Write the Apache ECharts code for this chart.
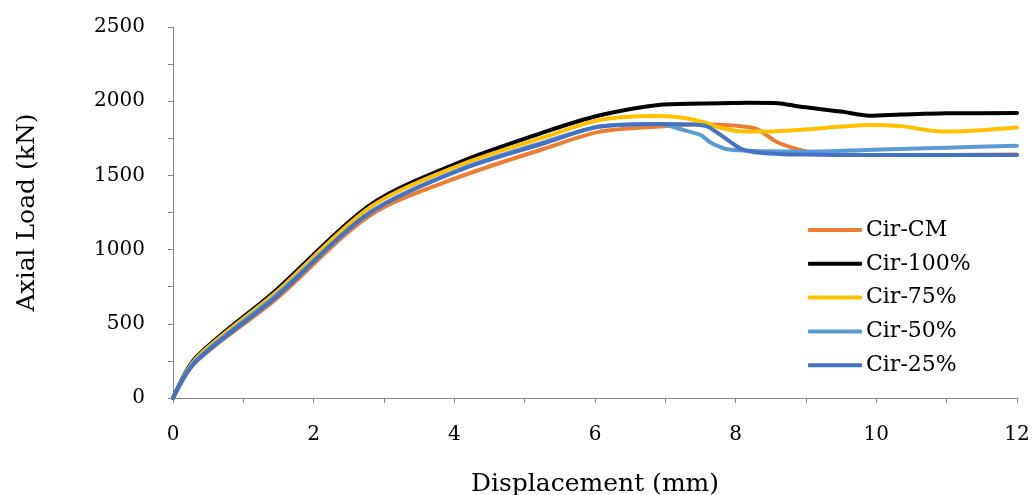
<!DOCTYPE html>
<html>
<head>
<meta charset="utf-8">
<script src="https://cdn.jsdelivr.net/npm/echarts@6/dist/echarts.min.js"></script>
<style>
html,body{margin:0;padding:0;background:#fff;}
#chart{width:1032px;height:495px;}
</style>
</head>
<body>
<div id="chart"></div>
<script>
// Series names
const seriesNames = ['Cir-CM', 'Cir-100%', 'Cir-75%', 'Cir-50%', 'Cir-25%'];
const seriesColors = ['#ED7D31', '#000000', '#FFC000', '#5B9BD5', '#4472C4'];

// [displacement (mm), axial load (kN)]
const cirCM = [[0,0],[0.32,240],[1.45,660],[2.8,1230],[4.08,1491],[5.3,1683],[6.07,1795],[6.9,1829],[7.5,1845],[8.06,1832],[8.3,1812],[8.58,1727],[8.91,1671],[9.1,1652],[9.86,1637],[11,1638],[12,1640]];
const cir100 = [[0,0],[0.32,270],[1.45,720],[2.8,1300],[4.08,1590],[5.3,1795],[6.07,1905],[6.9,1975],[7.5,1984],[8.2,1990],[8.6,1987],[8.9,1964],[9.5,1930],[9.9,1902],[10.35,1910],[11,1918],[12,1920]];
const cir75 = [[0,0],[0.32,262],[1.45,705],[2.8,1285],[4.08,1570],[5.3,1761],[6.07,1873],[6.9,1900],[7.3,1885],[7.6,1851],[7.8,1819],[8.06,1797],[8.4,1795],[9.0,1810],[9.5,1829],[9.9,1840],[10.34,1832],[10.95,1795],[11.5,1805],[12,1822]];
const cir50 = [[0,0],[0.32,250],[1.45,685],[2.8,1250],[4.08,1540],[5.3,1727],[6.07,1829],[6.9,1846],[7.3,1800],[7.5,1772],[7.65,1720],[7.85,1680],[8.1,1668],[8.5,1662],[9.0,1660],[9.86,1671],[11,1687],[12,1700]];
const cir25 = [[0,0],[0.32,244],[1.45,674],[2.75,1233],[4.08,1536],[5.3,1720],[6.07,1829],[6.9,1846],[7.5,1840],[7.62,1825],[7.8,1768],[8.06,1683],[8.25,1658],[8.6,1645],[9.0,1640],[9.86,1637],[12,1637]];
const seriesData = [cirCM, cir100, cir75, cir50, cir25];

// Axis settings
const xMin = 0, xMax = 12, xStep = 1;
const yMin = 0, yMax = 2500, yStep = 250;

const font = '"DejaVu Serif", serif';
const axisGrey = '#868686';

const chart = echarts.init(document.getElementById('chart'), null, {renderer: 'canvas'});
chart.setOption({
  animation: false,
  backgroundColor: '#ffffff',
  grid: {left: 173, right: 15, top: 27, bottom: 97, containLabel: false, outerBoundsMode: 'none'},
  xAxis: {
    type: 'value', min: xMin, max: xMax, interval: xStep,
    name: 'Displacement (mm)', nameLocation: 'middle', nameGap: 74,
    nameTextStyle: {fontFamily: font, fontSize: 25, color: '#000'},
    axisLine: {show: true, onZero: false, lineStyle: {color: axisGrey, width: 1}},
    axisTick: {show: true, inside: false, length: 5, lineStyle: {color: axisGrey}},
    splitLine: {show: false},
    axisLabel: {fontFamily: font, fontSize: 20, color: '#000', margin: 27,
      formatter: v => (Math.round(v) % 2 === 0 ? String(v) : '')}
  },
  yAxis: {
    type: 'value', min: yMin, max: yMax, interval: yStep,
    name: 'Axial Load (kN)', nameLocation: 'middle', nameGap: 133,
    nameTextStyle: {fontFamily: font, fontSize: 25, color: '#000'},
    axisLine: {show: true, lineStyle: {color: axisGrey, width: 1}},
    axisTick: {show: true, inside: false, length: 5, lineStyle: {color: axisGrey}},
    splitLine: {show: false},
    axisLabel: {fontFamily: font, fontSize: 20, color: '#000', margin: 28,
      formatter: v => (v % 500 === 0 ? String(v) : '')}
  },
  legend: {
    orient: 'vertical', left: 808, top: 218, padding: 0,
    itemWidth: 54, itemHeight: 4, itemGap: 9.8,
    icon: 'roundRect',
    textStyle: {fontFamily: font, fontSize: 22, color: '#000', lineHeight: 24, padding: [0,0,0,-1]},
    data: seriesNames
  },
  series: seriesNames.map((n, i) => ({
    name: n, type: 'line', data: seriesData[i],
    smooth: 0.3, showSymbol: false, symbol: 'none',
    color: seriesColors[i],
    lineStyle: {width: 4, color: seriesColors[i], cap: 'round', join: 'round'},
    z: 2 + i
  }))
});
</script>
</body>
</html>
